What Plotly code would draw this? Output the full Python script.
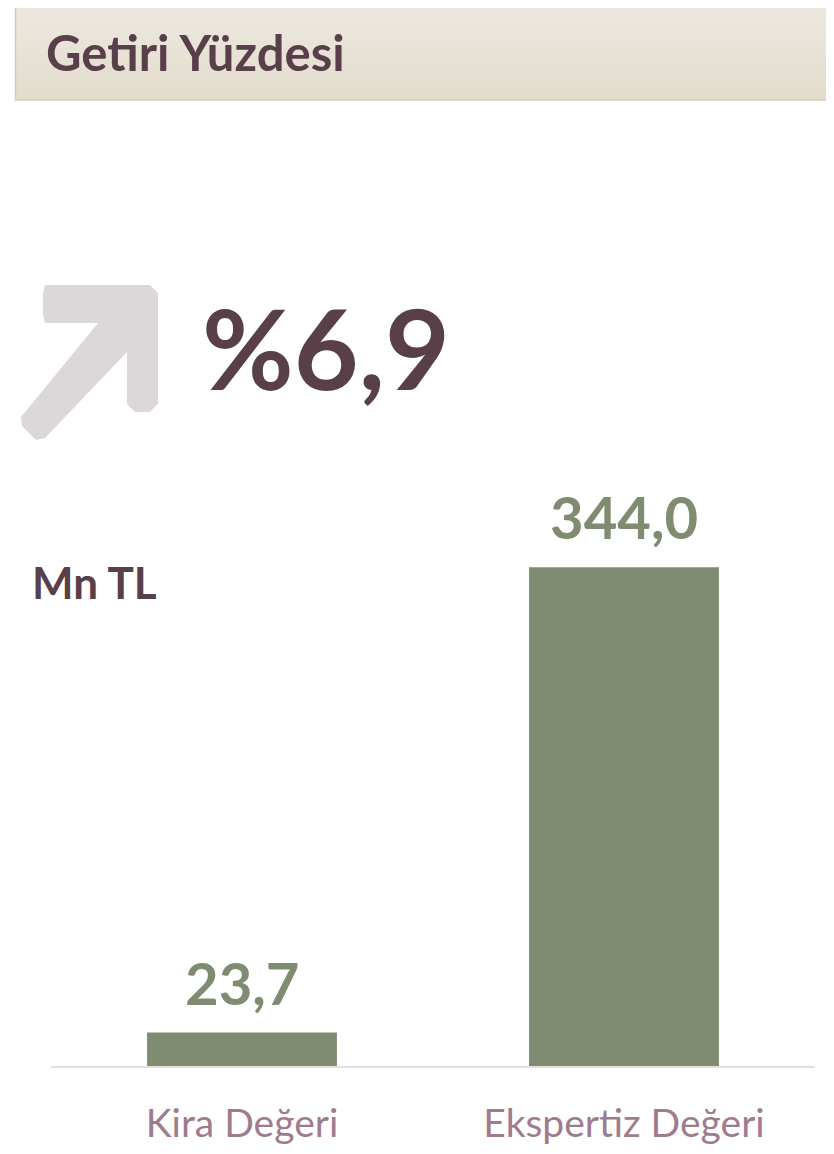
import plotly.graph_objects as go

# page body has an 8px margin; the figure is sized to fit the viewport
OFF = 8
W, H = 834 - OFF, 1154 - OFF

categories = ["Kira Değeri", "Ekspertiz Değeri"]
values = [23.7, 344.0]
value_labels = ["23,7", "344,0"]
title_text = "Getiri Yüzdesi"
kpi_text = "%6,9"
unit_text = "Mn TL"

FONT = "Lato"
GREEN = "#7f8c72"
PLUM = "#583f4a"
MAUVE = "#9e7c8e"


def px(x):
    return (x - OFF) / W


def py(y):
    return 1 - (y - OFF) / H


fig = go.Figure()
fig.add_trace(go.Bar(
    x=categories, y=values,
    marker=dict(color=GREEN, line=dict(width=0)),
    hoverinfo="skip",
))

annotations = []
for c, v, t in zip(categories, values, value_labels):
    annotations.append(dict(
        x=c, y=v, xref="x", yref="y", text=f"<b>{t}</b>", showarrow=False,
        yanchor="bottom", yshift=14,
        font=dict(family=FONT, size=58, color=GREEN),
    ))

annotations += [
    dict(x=px(44), y=py(52), xref="paper", yref="paper", text=f"<b>{title_text}</b>",
         showarrow=False, xanchor="left", yanchor="middle",
         font=dict(family=FONT, size=49, color=PLUM)),
    dict(x=px(200), y=py(347), xref="paper", yref="paper", text=f"<b>{kpi_text}</b>",
         showarrow=False, xanchor="left", yanchor="middle",
         font=dict(family=FONT, size=112, color=PLUM)),
    dict(x=px(30), y=py(582), xref="paper", yref="paper", text=f"<b>{unit_text}</b>",
         showarrow=False, xanchor="left", yanchor="middle",
         font=dict(family=FONT, size=44, color=PLUM)),
]

shapes = []
# header band: vertical gradient built from overlapping strips (each strip runs to the bottom)
top, bot = 3, 100
n = 24
c0 = (237, 233, 224)
c1 = (227, 220, 205)
for i in range(n):
    t = i / (n - 1)
    col = tuple(round(c0[k] + (c1[k] - c0[k]) * t) for k in range(3))
    y0 = top + (bot - top) * i / n
    shapes.append(dict(type="rect", xref="paper", yref="paper",
                       x0=px(15), x1=px(850), y0=py(bot), y1=py(y0),
                       fillcolor="rgb(%d,%d,%d)" % col, line=dict(width=0), layer="below"))
shapes.append(dict(type="rect", xref="paper", yref="paper",
                   x0=px(15.5), x1=px(860), y0=py(bot), y1=py(top),
                   fillcolor="rgba(0,0,0,0)", line=dict(color="#d6cbb6", width=1.5)))

pts = [(45, 285), (150, 285), (158, 293), (158, 404), (150, 412), (135, 412), (127, 404),
       (127, 352), (45, 438), (36, 440), (22, 426), (21, 417), (98, 323), (45, 323), (43, 315), (43, 293)]
path = "M " + " L ".join(f"{px(x):.5f},{py(y):.5f}" for x, y in pts) + " Z"
shapes.append(dict(type="path", xref="paper", yref="paper", path=path,
                   fillcolor="#dcd8da", line=dict(width=0)))

shapes.append(dict(type="line", xref="paper", yref="paper",
                   x0=px(51), x1=px(815), y0=py(1067), y1=py(1067),
                   line=dict(color="#e6dfe2", width=2)))

fig.update_layout(
    width=W, height=H,
    margin=dict(l=0, r=0, t=0, b=0),
    paper_bgcolor="white", plot_bgcolor="white",
    showlegend=False,
    bargap=0.503,
    annotations=annotations,
    shapes=shapes,
    xaxis=dict(domain=[px(51), px(815)], showgrid=False, zeroline=False, showline=False,
               ticks="", tickfont=dict(family=FONT, size=39, color=MAUVE),
               ticklabelstandoff=30, fixedrange=True),
    yaxis=dict(domain=[py(1067), py(486)], range=[0, 400], showgrid=False, zeroline=False,
               showline=False, showticklabels=False, ticks="", fixedrange=True),
)

fig.write_html("out.html")
